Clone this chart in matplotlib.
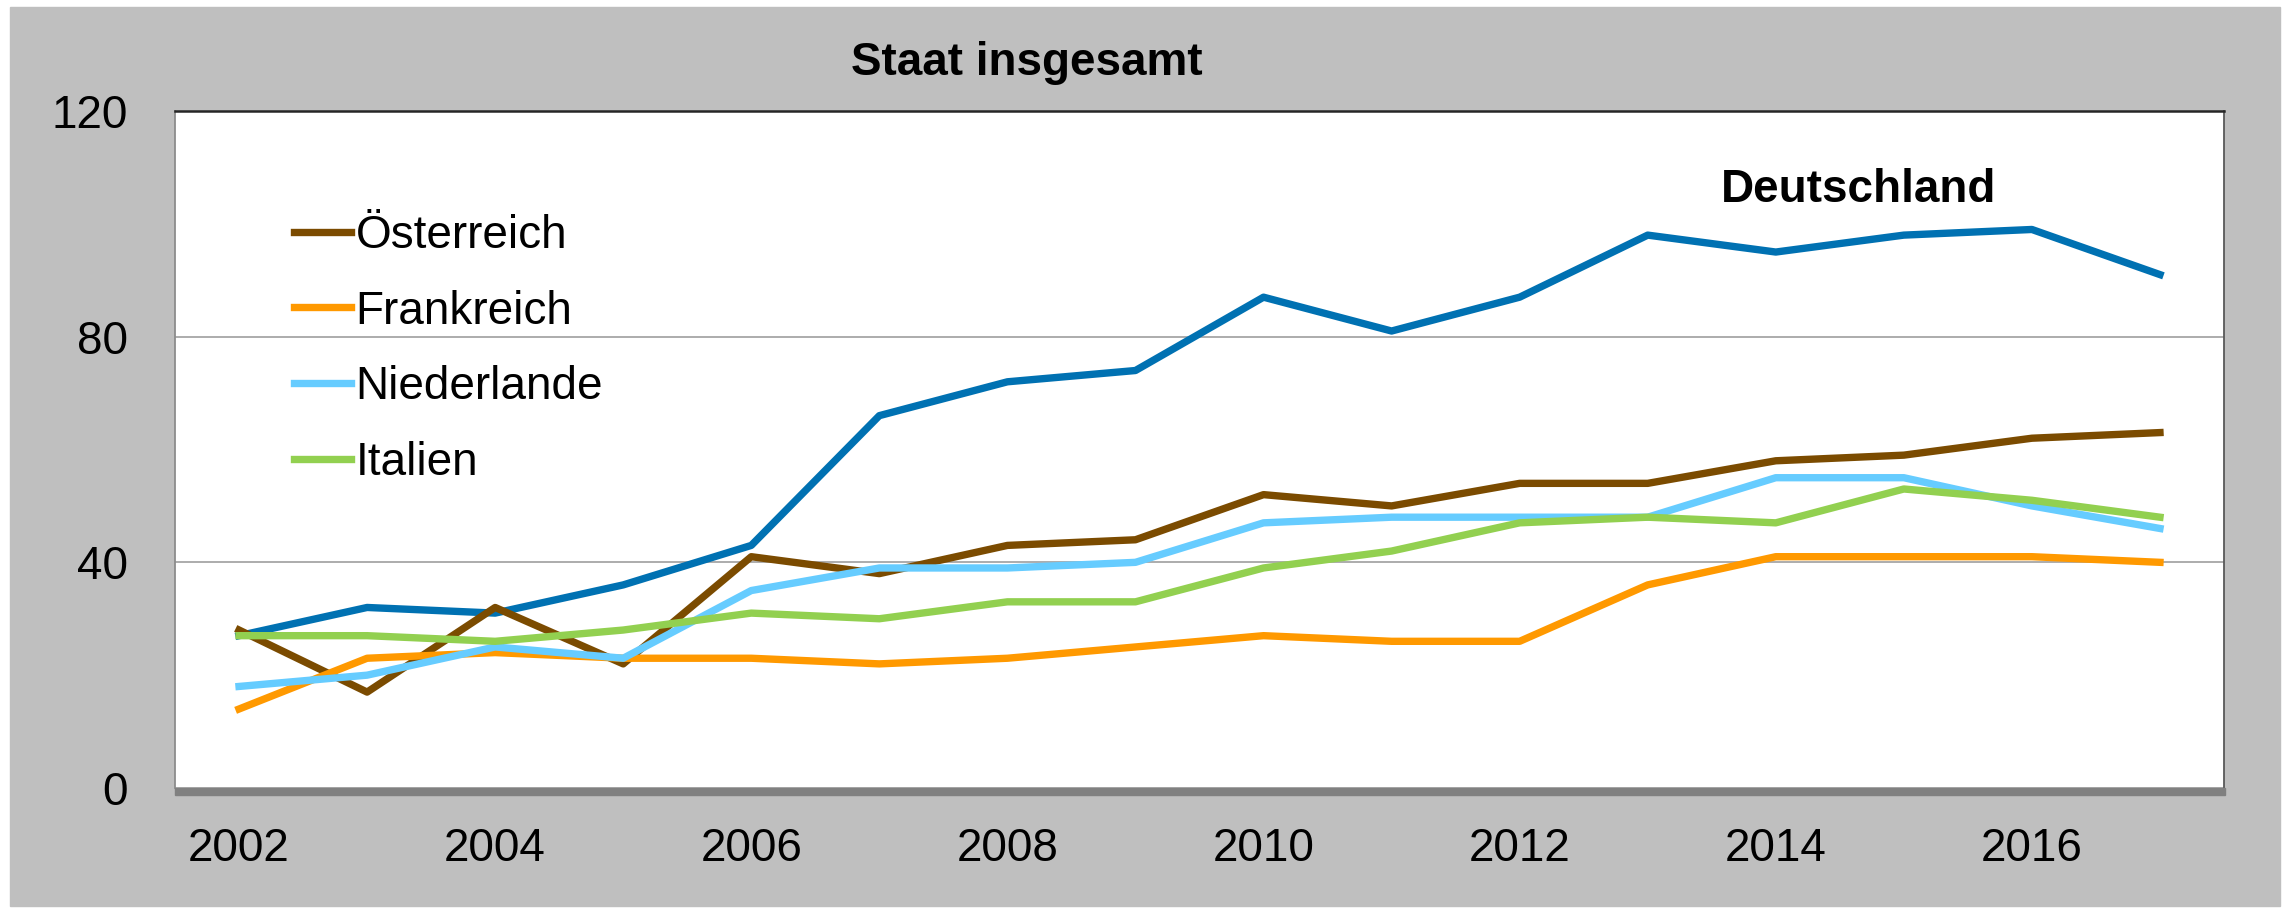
import matplotlib
matplotlib.use('Agg')
import matplotlib.pyplot as plt
from matplotlib.patches import Rectangle

plt.rcParams['font.family'] = ['Liberation Sans', 'DejaVu Sans']

# values
years = list(range(2002, 2018))
deutschland = [27, 32, 31, 36, 43, 66, 72, 74, 87, 81, 87, 98, 95, 98, 99, 91]
oesterreich = [28, 17, 32, 22, 41, 38, 43, 44, 52, 50, 54, 54, 58, 59, 62, 63]
frankreich = [14, 23, 24, 23, 23, 22, 23, 25, 27, 26, 26, 36, 41, 41, 41, 40]
niederlande = [18, 20, 25, 23, 35, 39, 39, 40, 47, 48, 48, 48, 55, 55, 50, 46]
italien = [27, 27, 26, 28, 31, 30, 33, 33, 39, 42, 47, 48, 47, 53, 51, 48]

x_ticks = [2002, 2004, 2006, 2008, 2010, 2012, 2014, 2016]
y_ticks = [0, 40, 80, 120]

W, H = 2288, 908
fig = plt.figure(figsize=(W / 100, H / 100), dpi=100)
fig.patch.set_facecolor('white')

# grey chart area behind everything
fig.patches.append(Rectangle((10 / W, 2 / H), 2270 / W, 899 / H,
                             transform=fig.transFigure, color='#bfbfbf', zorder=-10))

ax = fig.add_axes([175 / W, 120 / H, 2049 / W, 677 / H])
ax.set_facecolor('white')

lw = 5.3
ax.plot(years, deutschland, color='#0071b2', lw=lw, zorder=3)
ax.plot(years, oesterreich, color='#7b4b00', lw=lw, label='Österreich', zorder=3)
ax.plot(years, frankreich, color='#ff9900', lw=lw, label='Frankreich', zorder=3)
ax.plot(years, niederlande, color='#66ccff', lw=lw, label='Niederlande', zorder=3)
ax.plot(years, italien, color='#92d050', lw=lw, label='Italien', zorder=3)

ax.set_xlim(2001.5, 2017.5)
ax.set_ylim(0, 120)
ax.set_xticks(x_ticks)
ax.set_yticks(y_ticks)
ax.tick_params(axis='both', length=0, labelsize=33)
ax.tick_params(axis='x', pad=28)
ax.tick_params(axis='y', pad=34)
ax.grid(axis='y', color='#a6a6a6', lw=1.3)
ax.set_axisbelow(True)

ax.spines['top'].set_color('#262626')
ax.spines['top'].set_linewidth(1.8)
ax.spines['left'].set_color('#8c8c8c')
ax.spines['right'].set_color('#595959')
ax.spines['left'].set_linewidth(1.3)
ax.spines['right'].set_linewidth(1.3)
ax.spines['bottom'].set_visible(False)

# dark grey floor under the plot area
fig.patches.append(Rectangle((175 / W, (H - 795) / H), 2050 / W, 7 / H,
                             transform=fig.transFigure, color='#808080', zorder=5))

ax.text(2014.65, 106, 'Deutschland', ha='center', va='center',
        fontsize=33, fontweight='bold')

leg = ax.legend(loc='upper left', bbox_to_anchor=(0.058, 0.848), frameon=False,
                fontsize=33, handlelength=1.25, handletextpad=0.1,
                labelspacing=0.69, borderpad=0, borderaxespad=0)

fig.text(1027 / W, (H - 75) / H, 'Staat insgesamt', ha='center', va='baseline',
         fontsize=33, fontweight='bold')

fig.savefig('out.png', dpi=100)
